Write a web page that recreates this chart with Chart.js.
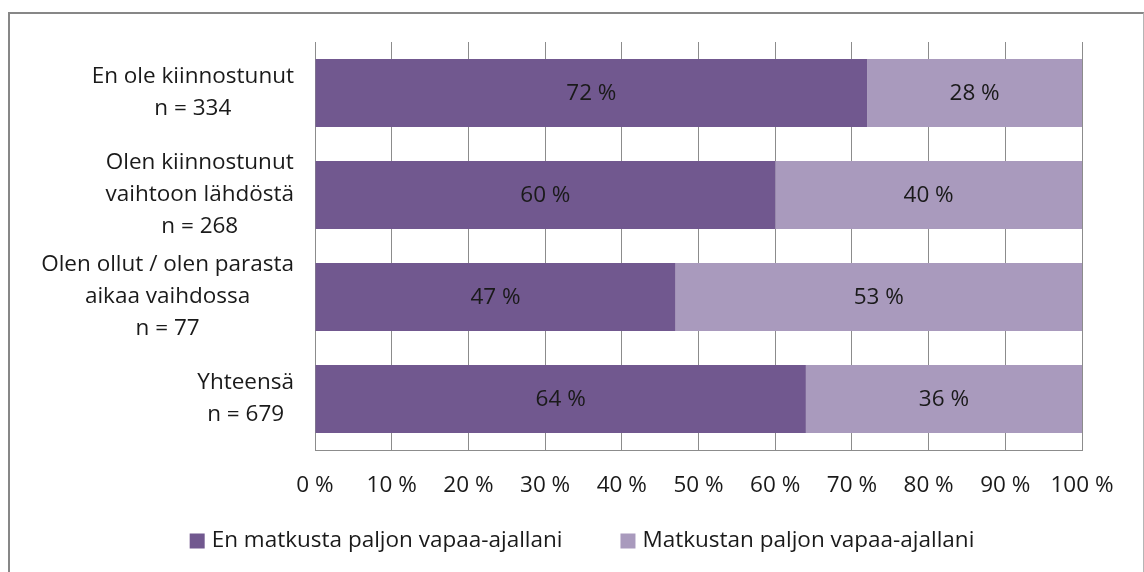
<!DOCTYPE html>
<html>
<head>
<meta charset="utf-8">
<script src="https://cdn.jsdelivr.net/npm/chart.js@4"></script>
<style>
  html, body { margin: 0; padding: 0; background: #fff; }
  #wrap { position: relative; width: 1144px; height: 572px; overflow: hidden; }
  #frame {
    position: absolute; left: 8px; top: 12px; width: 1133px; height: 600px;
    border-left: 2px solid #878787; border-top: 2px solid #878787; border-right: 1px solid #b5b5b5;
  }
  canvas { position: absolute; left: 0; top: 0; }
</style>
</head>
<body>
<div id="wrap">
  <div id="frame"></div>
  <canvas id="chart" width="1144" height="572"></canvas>
</div>
<script>
const categories = [
  ['En ole kiinnostunut', 'n = 334'],
  ['Olen kiinnostunut', 'vaihtoon lähdöstä', 'n = 268'],
  ['Olen ollut / olen parasta', 'aikaa vaihdossa', 'n = 77'],
  ['Yhteensä', 'n = 679']
];
const seriesNames = ['En matkusta paljon vapaa-ajallani', 'Matkustan paljon vapaa-ajallani'];
const noTravel = [72, 60, 47, 64];
const travel = [28, 40, 53, 36];
const xTicks = [0, 10, 20, 30, 40, 50, 60, 70, 80, 90, 100];

const darkPurple = '#71588F';
const lightPurple = '#A99ABD';
const fontFamily = '"Open Sans", sans-serif';
const fontSize = 22.5;
const textColor = '#1a1a1a';

// y labels: each line centred inside its block, block pushed to the axis
const categoryLabels = {
  id: 'categoryLabels',
  afterDraw(chart) {
    const ctx = chart.ctx;
    const yScale = chart.scales.y;
    ctx.save();
    ctx.font = fontSize + 'px ' + fontFamily;
    ctx.fillStyle = textColor;
    ctx.textAlign = 'center';
    ctx.textBaseline = 'middle';
    const lineH = 32;
    categories.forEach((lines, i) => {
      const yc = yScale.getPixelForValue(i);
      const w = Math.max(...lines.map(l => ctx.measureText(l).width));
      const cx = 294 - w / 2;
      lines.forEach((l, j) => {
        ctx.fillText(l, cx, yc + (j - (lines.length - 1) / 2) * lineH);
      });
    });
    ctx.restore();
  }
};

const valueLabels = {
  id: 'valueLabels',
  afterDatasetsDraw(chart) {
    const ctx = chart.ctx;
    ctx.save();
    ctx.font = fontSize + 'px ' + fontFamily;
    ctx.fillStyle = textColor;
    ctx.textAlign = 'center';
    ctx.textBaseline = 'middle';
    chart.data.datasets.forEach((ds, di) => {
      chart.getDatasetMeta(di).data.forEach((bar, i) => {
        ctx.fillText(ds.data[i] + ' %', (bar.x + bar.base) / 2, bar.y + 1);
      });
    });
    ctx.restore();
  }
};

const bottomLegend = {
  id: 'bottomLegend',
  afterDraw(chart) {
    const ctx = chart.ctx;
    ctx.save();
    ctx.font = fontSize + 'px ' + fontFamily;
    ctx.textBaseline = 'middle';
    const box = 15, gap = 7, itemGap = 58, y = 541;
    const widths = chart.data.datasets.map(ds => box + gap + ctx.measureText(ds.label).width);
    const total = widths.reduce((a, b) => a + b, 0) + itemGap * (widths.length - 1);
    let x = 582 - total / 2;
    chart.data.datasets.forEach((ds, i) => {
      ctx.fillStyle = ds.backgroundColor;
      ctx.fillRect(x, y - box / 2, box, box);
      ctx.fillStyle = textColor;
      ctx.fillText(ds.label, x + box + gap, y);
      x += widths[i] + itemGap;
    });
    ctx.restore();
  }
};

new Chart(document.getElementById('chart'), {
  type: 'bar',
  data: {
    labels: categories,
    datasets: [
      { label: seriesNames[0], data: noTravel, backgroundColor: darkPurple },
      { label: seriesNames[1], data: travel, backgroundColor: lightPurple }
    ]
  },
  options: {
    indexAxis: 'y',
    responsive: false,
    animation: false,
    layout: { padding: { top: 42, right: 62, bottom: 0, left: 0 } },
    plugins: { legend: { display: false }, tooltip: { enabled: false } },
    datasets: { bar: { barPercentage: 1, categoryPercentage: 0.667 } },
    scales: {
      x: {
        stacked: true,
        min: 0,
        max: 100,
        afterBuildTicks(scale) { scale.ticks = xTicks.map(v => ({ value: v })); },
        afterFit(scale) { scale.height = 122; },
        grid: { color: '#8c8c8c', drawTicks: false },
        border: { color: '#8c8c8c' },
        ticks: {
          padding: 22,
          color: textColor,
          font: { family: fontFamily, size: fontSize },
          callback: v => v + ' %'
        }
      },
      y: {
        stacked: true,
        afterFit(scale) { scale.width = 315; },
        grid: { display: false },
        border: { color: '#8c8c8c' },
        ticks: { display: false }
      }
    }
  },
  plugins: [categoryLabels, valueLabels, bottomLegend]
});
</script>
</body>
</html>
